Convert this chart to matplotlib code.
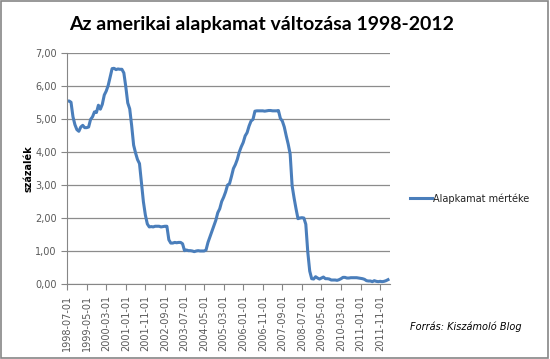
import numpy as np
import matplotlib.pyplot as plt
from matplotlib.patches import Rectangle

# monthly rate (%) from 1998-07 to 2012-03
rate_1998 = [5.54, 5.55, 5.51, 5.07, 4.83, 4.68]
rate_1999 = [4.63, 4.76, 4.81, 4.74, 4.74, 4.76, 4.99, 5.07, 5.22, 5.20, 5.42, 5.30]
rate_2000 = [5.45, 5.73, 5.85, 6.02, 6.27, 6.53, 6.54, 6.50, 6.52, 6.51, 6.51, 6.40]
rate_2001 = [5.98, 5.49, 5.31, 4.80, 4.21, 3.97, 3.77, 3.65, 3.07, 2.49, 2.09, 1.82]
rate_2002 = [1.73, 1.74, 1.73, 1.75, 1.75, 1.75, 1.73, 1.74, 1.75, 1.75, 1.34, 1.24]
rate_2003 = [1.24, 1.26, 1.25, 1.26, 1.26, 1.22, 1.01, 1.03, 1.01, 1.01, 1.00, 0.98]
rate_2004 = [1.00, 1.01, 1.00, 1.00, 1.00, 1.03, 1.26, 1.43, 1.61, 1.76, 1.93, 2.16]
rate_2005 = [2.28, 2.50, 2.63, 2.79, 3.00, 3.04, 3.26, 3.50, 3.62, 3.78, 4.00, 4.16]
rate_2006 = [4.29, 4.49, 4.59, 4.79, 4.94, 4.99, 5.24, 5.25, 5.25, 5.25, 5.25, 5.24]
rate_2007 = [5.25, 5.26, 5.26, 5.25, 5.25, 5.25, 5.26, 5.02, 4.94, 4.76, 4.49, 4.24]
rate_2008 = [3.94, 2.98, 2.61, 2.28, 1.98, 2.00, 2.01, 2.00, 1.81, 0.97, 0.39, 0.16]
rate_2009 = [0.15, 0.22, 0.18, 0.15, 0.18, 0.21, 0.16, 0.16, 0.15, 0.12, 0.12, 0.12]
rate_2010 = [0.11, 0.13, 0.16, 0.20, 0.20, 0.18, 0.18, 0.19, 0.19, 0.19, 0.19, 0.18]
rate_2011 = [0.17, 0.16, 0.14, 0.10, 0.09, 0.09, 0.07, 0.10, 0.08, 0.07, 0.08, 0.07]
rate_2012 = [0.08, 0.10, 0.13]

rates = (rate_1998 + rate_1999 + rate_2000 + rate_2001 + rate_2002 + rate_2003
         + rate_2004 + rate_2005 + rate_2006 + rate_2007 + rate_2008 + rate_2009
         + rate_2010 + rate_2011 + rate_2012)

months = []
y, m = 1998, 7
for _ in rates:
    months.append(f'{y}-{m:02d}-01')
    m += 1
    if m > 12:
        y, m = y + 1, 1

grey = '#595959'

fig = plt.figure(figsize=(5.5, 3.59), dpi=100)
ax = fig.add_axes([0.122, 0.209, 0.587, 0.643])

x = np.arange(len(rates))
line, = ax.plot(x, rates, color='#4a7ebb', linewidth=2.2, solid_joinstyle='round')

ax.set_xlim(0, len(rates))
ax.set_ylim(0, 7)
ax.set_yticks(np.arange(0, 8))
ax.set_yticklabels([f'{v:.2f}'.replace('.', ',') for v in range(8)])
ax.set_xticks(x[::10])
ax.set_xticklabels(months[::10], rotation=90)

ax.grid(axis='y', color='#8c8c8c', linewidth=0.9)
ax.set_axisbelow(True)
for s in ['top', 'right']:
    ax.spines[s].set_visible(False)
for s in ['left', 'bottom']:
    ax.spines[s].set_color('#868686')
ax.tick_params(axis='both', colors='#868686', labelcolor=grey, labelsize=7, length=4)

ax.set_ylabel('százalék', fontsize=7, fontweight='bold', color='black')
ax.yaxis.set_label_coords(-0.105, 0.5)

fig.suptitle('Az amerikai alapkamat változása 1998-2012', x=0.475, y=0.955,
             fontsize=14, fontweight='bold', family='Lato')

fig.legend([line], ['Alapkamat mértéke'], loc='center left', bbox_to_anchor=(0.73, 0.447),
           frameon=False, fontsize=7, handlelength=2.2, handletextpad=0.1,
           labelcolor='#222222')

fig.text(0.745, 0.08, 'Forrás: Kiszámoló Blog', fontsize=7, style='italic', color='black')

fig.patches.append(Rectangle((0.002, 0.003), 0.995, 0.993, transform=fig.transFigure,
                             fill=False, edgecolor='#868686', linewidth=1.2))

fig.savefig('out.png', dpi=100)
